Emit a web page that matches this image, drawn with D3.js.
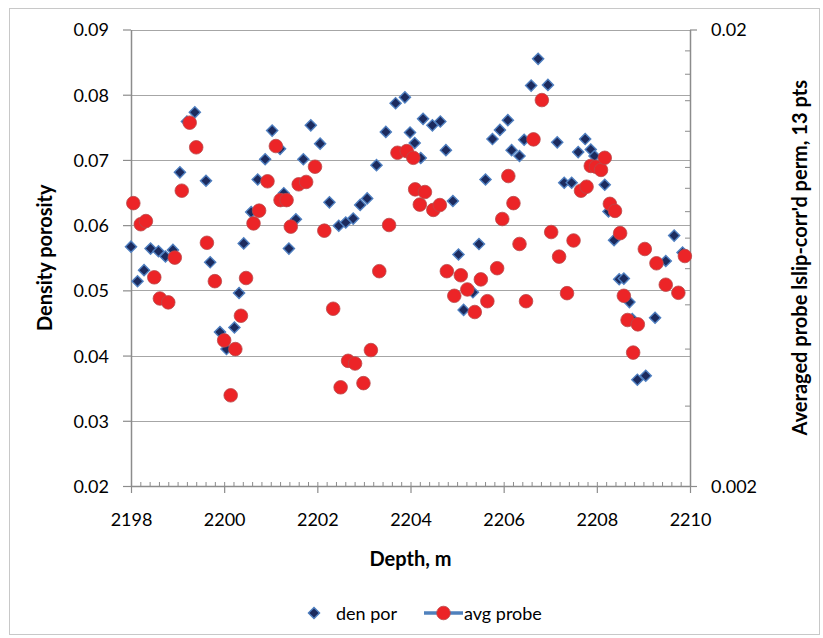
<!DOCTYPE html>
<html>
<head>
<meta charset="utf-8">
<script src="https://cdn.jsdelivr.net/npm/d3@7"></script>
<style>
  html, body { margin: 0; padding: 0; background: #fff; }
  svg { display: block; font-family: Lato, "Open Sans", sans-serif; }
</style>
</head>
<body>
<svg id="chart" width="823" height="638"></svg>
<script>
// Density porosity (left axis) against depth
const denDepth = [
  2198.00, 2198.14, 2198.28, 2198.42, 2198.59, 2198.74, 2198.90, 2199.05, 2199.20, 2199.37,
  2199.61, 2199.70, 2199.91, 2200.05, 2200.22, 2200.32, 2200.42, 2200.58, 2200.72, 2200.88,
  2201.03, 2201.20, 2201.28, 2201.39, 2201.54, 2201.70, 2201.86, 2202.06, 2202.26, 2202.46,
  2202.61, 2202.77, 2202.92, 2203.07, 2203.27, 2203.47, 2203.68, 2203.88, 2203.99, 2204.09,
  2204.22, 2204.27, 2204.47, 2204.64, 2204.76, 2204.91, 2205.03, 2205.14, 2205.34, 2205.47,
  2205.61, 2205.76, 2205.92, 2206.09, 2206.17, 2206.34, 2206.44, 2206.59, 2206.74, 2206.95,
  2207.15, 2207.30, 2207.46, 2207.60, 2207.75, 2207.87, 2207.95, 2208.17, 2208.25, 2208.37,
  2208.48, 2208.58, 2208.70, 2208.76, 2208.87, 2209.05, 2209.25, 2209.48, 2209.66, 2209.84
];
const denPor = [
  0.0567, 0.0514, 0.0531, 0.0564, 0.0560, 0.0552, 0.0562, 0.0681, 0.0759, 0.0773,
  0.0668, 0.0543, 0.0436, 0.0410, 0.0443, 0.0496, 0.0572, 0.0620, 0.0670, 0.0701,
  0.0745, 0.0717, 0.0649, 0.0564, 0.0609, 0.0701, 0.0753, 0.0725, 0.0635, 0.0599,
  0.0604, 0.0610, 0.0631, 0.0641, 0.0692, 0.0743, 0.0787, 0.0796, 0.0742, 0.0726,
  0.0703, 0.0763, 0.0753, 0.0759, 0.0715, 0.0637, 0.0555, 0.0470, 0.0497, 0.0571,
  0.0670, 0.0732, 0.0746, 0.0761, 0.0715, 0.0706, 0.0731, 0.0814, 0.0855, 0.0815,
  0.0727, 0.0665, 0.0665, 0.0712, 0.0732, 0.0716, 0.0706, 0.0662, 0.0621, 0.0577,
  0.0517, 0.0518, 0.0482, 0.0456, 0.0363, 0.0369, 0.0458, 0.0545, 0.0584, 0.0558
];

// Averaged probe slip-corrected permeability (right axis, log scale)
const probeDepth = [
  2198.05, 2198.21, 2198.32, 2198.50, 2198.62, 2198.80, 2198.94, 2199.09, 2199.26, 2199.40,
  2199.63, 2199.80, 2200.00, 2200.14, 2200.24, 2200.36, 2200.47, 2200.63, 2200.75, 2200.93,
  2201.11, 2201.21, 2201.34, 2201.43, 2201.60, 2201.76, 2201.95, 2202.15, 2202.34, 2202.50,
  2202.66, 2202.81, 2202.99, 2203.15, 2203.33, 2203.54, 2203.72, 2203.92, 2204.06, 2204.10,
  2204.20, 2204.31, 2204.49, 2204.63, 2204.78, 2204.94, 2205.08, 2205.22, 2205.38, 2205.51,
  2205.65, 2205.86, 2205.97, 2206.10, 2206.21, 2206.34, 2206.48, 2206.64, 2206.82, 2207.02,
  2207.19, 2207.36, 2207.50, 2207.66, 2207.78, 2207.87, 2207.98, 2208.09, 2208.17, 2208.28,
  2208.39, 2208.50, 2208.58, 2208.66, 2208.78, 2208.88, 2209.03, 2209.28, 2209.48, 2209.75,
  2209.89
];
const probePerm = [
  0.00833, 0.00749, 0.00761, 0.00573, 0.00515, 0.00505, 0.00633, 0.00887, 0.01250, 0.01104,
  0.00682, 0.00562, 0.00417, 0.00316, 0.00399, 0.00472, 0.00571, 0.00752, 0.00802, 0.00930,
  0.01111, 0.00846, 0.00846, 0.00740, 0.00916, 0.00927, 0.01001, 0.00725, 0.00489, 0.00329,
  0.00376, 0.00371, 0.00336, 0.00397, 0.00591, 0.00746, 0.01074, 0.01083, 0.01047, 0.00893,
  0.00827, 0.00881, 0.00805, 0.00825, 0.00591, 0.00522, 0.00579, 0.00539, 0.00481, 0.00567,
  0.00508, 0.00600, 0.00769, 0.00955, 0.00833, 0.00678, 0.00508, 0.01149, 0.01401, 0.00720,
  0.00636, 0.00529, 0.00690, 0.00887, 0.00905, 0.01005, 0.01001, 0.00985, 0.01047, 0.00830,
  0.00801, 0.00716, 0.00522, 0.00462, 0.00392, 0.00452, 0.00661, 0.00615, 0.00552, 0.00530,
  0.00638
];

// Axis ticks and labels
const xTicks = [2198, 2200, 2202, 2204, 2206, 2208, 2210];
const yTicks = [0.02, 0.03, 0.04, 0.05, 0.06, 0.07, 0.08, 0.09];
const rightTicks = [0.002, 0.02];
const rightMinorTicks = [0.003, 0.004, 0.005, 0.006, 0.007, 0.008, 0.009, 0.01, 0.012, 0.014, 0.016, 0.018];
const seriesNames = ["den por", "avg probe"];
const xTitle = "Depth, m";
const yTitle = "Density porosity";
const y2Title = "Averaged probe lslip-corr'd perm, 13 pts";

const svg = d3.select("#chart");
const plotLeft = 131, plotRight = 690, plotTop = 29.5, plotBottom = 486;

const x = d3.scaleLinear().domain([2198, 2210]).range([plotLeft, plotRight]);
const y = d3.scaleLinear().domain([0.02, 0.09]).range([plotBottom, plotTop]);
const y2 = d3.scaleLog().domain([0.002, 0.02]).range([plotBottom, plotTop]);

const axisColor = "#8c8c8c";
const gridColor = "#a6a6a6";
const fontSize = 18;
const titleSize = 20;

// outer frame
svg.append("rect")
  .attr("x", 9.5).attr("y", 8.5).attr("width", 810).attr("height", 626)
  .attr("fill", "none").attr("stroke", "#c8c8c8").attr("stroke-width", 1);

// horizontal gridlines
svg.append("g")
  .selectAll("line")
  .data(yTicks.filter(v => v > 0.02))
  .join("line")
  .attr("x1", plotLeft).attr("x2", plotRight)
  .attr("y1", d => Math.round(y(d)) + 0.5).attr("y2", d => Math.round(y(d)) + 0.5)
  .attr("stroke", gridColor).attr("stroke-width", 1.2);

function styleAxis(g) {
  g.selectAll(".domain").attr("stroke", axisColor).attr("stroke-width", 1.5);
  g.selectAll(".tick line").attr("stroke", axisColor).attr("stroke-width", 1.2);
  g.selectAll(".tick text")
    .attr("fill", "#000")
    .style("font-family", "Lato, 'Open Sans', sans-serif")
    .style("font-size", fontSize + "px");
}

// x axis: minor ticks (inside) then major ticks
const xMinor = d3.range(0, 61).map(i => 2198 + i * 0.2);
svg.append("g")
  .attr("transform", `translate(0,${plotBottom})`)
  .call(d3.axisTop(x).tickValues(xMinor).tickSize(4).tickFormat(""))
  .call(g => g.select(".domain").remove())
  .call(g => g.selectAll(".tick line").attr("stroke", axisColor).attr("stroke-width", 1));

svg.append("g")
  .attr("transform", `translate(0,${plotBottom})`)
  .call(d3.axisBottom(x).tickValues(xTicks).tickSize(7).tickSizeOuter(0).tickPadding(20).tickFormat(d3.format("d")))
  .call(styleAxis);

// left axis
svg.append("g")
  .attr("transform", `translate(${plotLeft},0)`)
  .call(d3.axisLeft(y).tickValues(yTicks).tickSize(8).tickSizeOuter(0).tickPadding(14).tickFormat(d3.format(".2f")))
  .call(styleAxis)
  .call(g => g.selectAll(".tick text").attr("dy", "0.36em"));

// right axis (log): minor ticks inside, labelled ends outside
svg.append("g")
  .attr("transform", `translate(${plotRight},0)`)
  .call(d3.axisLeft(y2).tickValues(rightMinorTicks).tickSize(5).tickFormat(""))
  .call(g => g.select(".domain").remove())
  .call(g => g.selectAll(".tick line").attr("stroke", axisColor).attr("stroke-width", 1));

svg.append("g")
  .attr("transform", `translate(${plotRight},0)`)
  .call(d3.axisRight(y2).tickValues(rightTicks).tickSize(7).tickSizeOuter(0).tickPadding(14).tickFormat(d3.format("")))
  .call(styleAxis)
  .call(g => g.selectAll(".tick text").attr("dy", "0.36em"));

// axis titles
svg.append("text")
  .attr("x", x(2204)).attr("y", 566)
  .attr("text-anchor", "middle")
  .style("font-weight", "bold").style("font-size", titleSize + "px")
  .text(xTitle);

svg.append("text")
  .attr("transform", `translate(52,${(plotTop + plotBottom) / 2}) rotate(-90)`)
  .attr("text-anchor", "middle")
  .style("font-weight", "bold").style("font-size", titleSize + "px")
  .text(yTitle);

svg.append("text")
  .attr("transform", `translate(807,${(plotTop + plotBottom) / 2}) rotate(-90)`)
  .attr("text-anchor", "middle")
  .style("font-weight", "bold").style("font-size", titleSize + "px")
  .text(y2Title);

// markers
const diamond = d3.symbol().type(d3.symbolSquare).size(62);
const circle = d3.symbol().type(d3.symbolCircle).size(Math.PI * 6.8 * 6.8);

const denData = denDepth.map((d, i) => ({ depth: d, value: denPor[i] }));
const probeData = probeDepth.map((d, i) => ({ depth: d, value: probePerm[i] }));

svg.append("g")
  .selectAll("path")
  .data(denData)
  .join("path")
  .attr("d", diamond)
  .attr("transform", d => `translate(${x(d.depth)},${y(d.value)}) rotate(45)`)
  .attr("fill", "#1c2b5e")
  .attr("stroke", "#4f7fc0")
  .attr("stroke-width", 1.4);

svg.append("g")
  .selectAll("path")
  .data(probeData)
  .join("path")
  .attr("d", circle)
  .attr("transform", d => `translate(${x(d.depth)},${y2(d.value)})`)
  .attr("fill", "#ec2427")
  .attr("stroke", "#b9494a")
  .attr("stroke-width", 0.8);

// legend
const lg = svg.append("g");
lg.append("path")
  .attr("d", diamond)
  .attr("transform", "translate(314,613) rotate(45)")
  .attr("fill", "#1c2b5e").attr("stroke", "#4f7fc0").attr("stroke-width", 1.4);
lg.append("text")
  .attr("x", 336).attr("y", 619.5)
  .style("font-size", fontSize + "px")
  .text(seriesNames[0]);
lg.append("line")
  .attr("x1", 424).attr("x2", 463).attr("y1", 613).attr("y2", 613)
  .attr("stroke", "#4f81bd").attr("stroke-width", 3.5);
lg.append("path")
  .attr("d", circle)
  .attr("transform", "translate(443.5,613)")
  .attr("fill", "#ec2427").attr("stroke", "#b9494a").attr("stroke-width", 0.8);
lg.append("text")
  .attr("x", 464).attr("y", 619.5)
  .style("font-size", fontSize + "px")
  .text(seriesNames[1]);
</script>
</body>
</html>
